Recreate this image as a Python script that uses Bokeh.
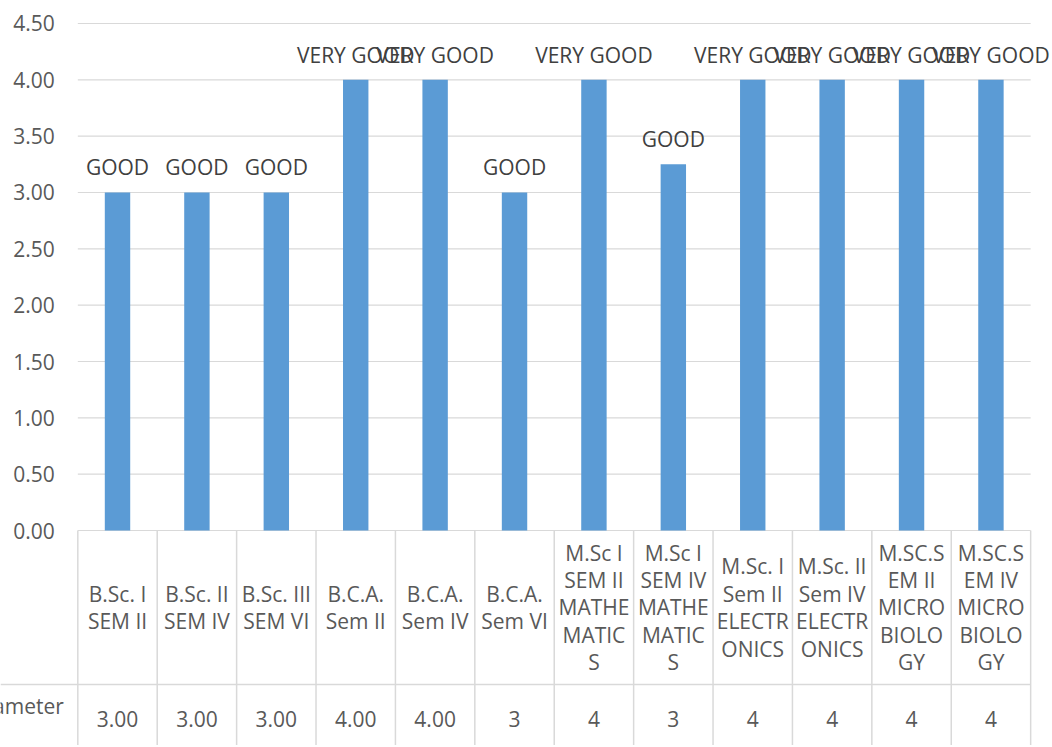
from bokeh.plotting import figure
from bokeh.models import ColumnDataSource
from bokeh.embed import file_html
from bokeh.resources import INLINE
from bokeh.core.properties import value

categories = [
    "B.Sc. I\nSEM II", "B.Sc. II\nSEM IV", "B.Sc. III\nSEM VI",
    "B.C.A.\nSem II", "B.C.A.\nSem IV", "B.C.A.\nSem VI",
    "M.Sc I\nSEM II\nMATHE\nMATIC\nS", "M.Sc I\nSEM IV\nMATHE\nMATIC\nS",
    "M.Sc. I\nSem II\nELECTR\nONICS", "M.Sc. II\nSem IV\nELECTR\nONICS",
    "M.SC.S\nEM II\nMICRO\nBIOLO\nGY", "M.SC.S\nEM IV\nMICRO\nBIOLO\nGY",
]
scores = [3, 3, 3, 4, 4, 3, 4, 3.25, 4, 4, 4, 4]
ratings = ["GOOD", "GOOD", "GOOD", "VERY GOOD", "VERY GOOD", "GOOD",
           "VERY GOOD", "GOOD", "VERY GOOD", "VERY GOOD", "VERY GOOD", "VERY GOOD"]
table_values = ["3.00", "3.00", "3.00", "4.00", "4.00", "3", "4", "3", "4", "4", "4", "4"]
series_name = "Parameter"
y_ticks = [0.0, 0.5, 1.0, 1.5, 2.0, 2.5, 3.0, 3.5, 4.0, 4.5]
y_tick_labels = ["0.00", "0.50", "1.00", "1.50", "2.00", "2.50", "3.00", "3.50", "4.00", "4.50"]

FONT = value("Open Sans")
TXT = "#595959"
GRID = "#D9D9D9"
FS = "21px"

n = len(categories)
idx = list(range(n))

x_start, x_end = -1.4736, 11.75
y_start, y_end = -1.908, 4.704
row_split = -1.367

p = figure(width=1050, height=745, x_range=(x_start, x_end), y_range=(y_start, y_end),
           x_axis_location=None, y_axis_location=None, toolbar_location=None,
           output_backend="svg", min_border=0)
p.grid.visible = False
p.outline_line_color = None
p.background_fill_color = "white"

# gridlines
p.segment(x0=[-0.5] * len(y_ticks), x1=[n - 0.5] * len(y_ticks), y0=y_ticks, y1=y_ticks,
          line_color=GRID, line_width=1.2)

# y tick labels
p.text(x=[-0.5] * len(y_ticks), y=y_ticks, text=y_tick_labels, x_offset=-23,
       text_align="right", text_baseline="middle", text_font=FONT,
       text_font_size=FS, text_color=TXT)

# data table lines
bounds = [i - 0.5 for i in range(n + 1)]
p.segment(x0=bounds, x1=bounds, y0=[0] * len(bounds), y1=[y_start] * len(bounds),
          line_color=GRID, line_width=1.5)
p.segment(x0=[x_start], x1=[n - 0.5], y0=[row_split], y1=[row_split],
          line_color=GRID, line_width=1.5)

# bars
src = ColumnDataSource(dict(x=idx, top=scores, rating=ratings, cat=categories, val=table_values))
p.vbar(x="x", top="top", width=0.32, source=src, fill_color="#5B9BD5", line_color=None)

# data labels
p.text(x="x", y="top", text="rating", source=src, y_offset=-25, text_align="center",
       text_baseline="middle", text_font=FONT, text_font_size=FS, text_color="#404040")

# category labels in table
p.text(x="x", y=-0.683, text="cat", source=src, text_align="center", text_baseline="middle",
       text_font=FONT, text_font_size=FS, text_color=TXT, text_line_height=0.98)

# value row
p.text(x="x", y=-1.669, text="val", source=src, text_align="center", text_baseline="middle",
       text_font=FONT, text_font_size=FS, text_color=TXT)

# series name
p.text(x=[-0.5], y=[-1.553], text=[series_name], x_offset=-14, text_align="right",
       text_baseline="middle", text_font=FONT, text_font_size=FS, text_color=TXT)

open("out.html", "w").write(file_html(p, INLINE))
